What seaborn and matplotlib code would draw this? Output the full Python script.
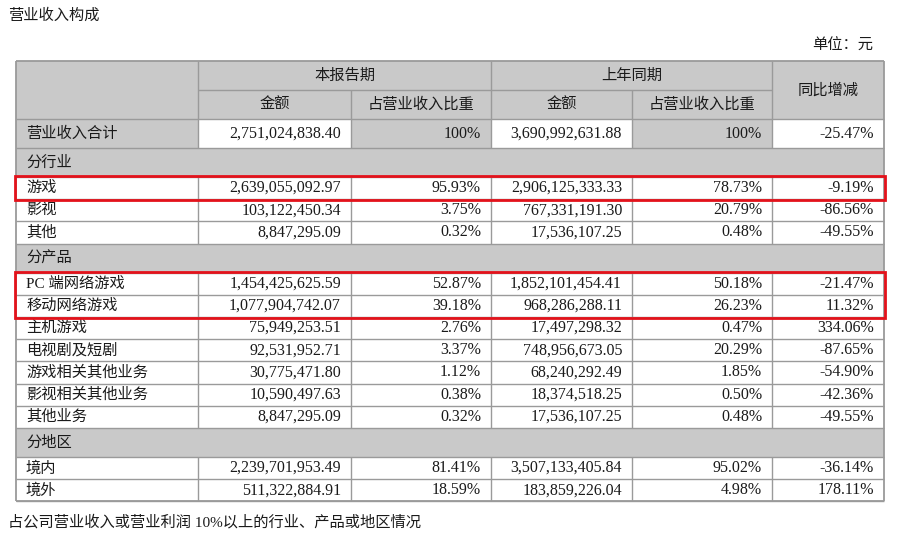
import seaborn as sns
import matplotlib.pyplot as plt
from matplotlib.patches import Rectangle

sns.set_theme(style='white')
plt.rcParams['font.family'] = ['Liberation Serif', 'Noto Sans CJK SC', 'DejaVu Sans']

###

title = '营业收入构成'
unit_note = '单位：元'
footnote = '占公司营业收入或营业利润 10%以上的行业、产品或地区情况'

period_headers = ['本报告期', '上年同期']
sub_headers = ['金额', '占营业收入比重']
yoy_header = '同比增减'

total_label = '营业收入合计'
total_cur_amount = 2751024838.40
total_prev_amount = 3690992631.88
total_yoy = -25.47

section_names = ['分行业', '分产品', '分地区']
section_sizes = [3, 7, 2]

item_labels = ['游戏', '影视', '其他',
               'PC 端网络游戏', '移动网络游戏', '主机游戏', '电视剧及短剧',
               '游戏相关其他业务', '影视相关其他业务', '其他业务',
               '境内', '境外']
cur_amount = [2639055092.97, 103122450.34, 8847295.09,
              1454425625.59, 1077904742.07, 75949253.51, 92531952.71,
              30775471.80, 10590497.63, 8847295.09,
              2239701953.49, 511322884.91]
cur_share = [95.93, 3.75, 0.32,
             52.87, 39.18, 2.76, 3.37, 1.12, 0.38, 0.32,
             81.41, 18.59]
prev_amount = [2906125333.33, 767331191.30, 17536107.25,
               1852101454.41, 968286288.11, 17497298.32, 748956673.05,
               68240292.49, 18374518.25, 17536107.25,
               3507133405.84, 183859226.04]
prev_share = [78.73, 20.79, 0.48,
              50.18, 26.23, 0.47, 20.29, 1.85, 0.50, 0.48,
              95.02, 4.98]
yoy_change = [-9.19, -86.56, -49.55,
              -21.47, 11.32, 334.06, -87.65, -54.90, -42.36, -49.55,
              -36.14, 178.11]

highlight_groups = [[0], [3, 4]]

###

GREY = '#c9c9c9'
LINE = '#9a9a9a'
RED = '#e3121b'
TXT = '#1a1a1a'

col_x = [16, 198, 351, 491, 632, 772, 884]
top = 61
head_h = 29
sec_h = 29
item_h = 22.2
num_size = 11.5
cjk_size = 11

fig = plt.figure(figsize=(9, 5.38), dpi=100)
ax = fig.add_axes([0, 0, 1, 1])
ax.set_xlim(0, 900)
ax.set_ylim(538, 0)
ax.axis('off')


def cell(x0, x1, y0, y1, color):
    ax.add_patch(Rectangle((x0, y0), x1 - x0, y1 - y0, facecolor=color,
                           edgecolor='none', zorder=1))


def hline(x0, x1, y, lw=1.0):
    ax.plot([x0, x1], [y, y], color=LINE, lw=lw, zorder=2, solid_capstyle='butt')


def vline(x, y0, y1, lw=1.0):
    ax.plot([x, x], [y0, y1], color=LINE, lw=lw, zorder=2, solid_capstyle='butt')


def put(x, y, s, ha='right', size=num_size):
    ax.text(x, y, s, ha=ha, va='center', fontsize=size, color=TXT, zorder=3)


def pct(v):
    return f'{v:.2f}%'


# header
h1 = top + head_h
h2 = h1 + head_h
cell(col_x[0], col_x[-1], top, h2, GREY)
for i, name in enumerate(period_headers):
    xa, xb = col_x[1 + 2 * i], col_x[3 + 2 * i]
    put((xa + xb) / 2, (top + h1) / 2, name, ha='center', size=cjk_size)
    for j, sub in enumerate(sub_headers):
        c0, c1 = col_x[1 + 2 * i + j], col_x[2 + 2 * i + j]
        put((c0 + c1) / 2, (h1 + h2) / 2, sub, ha='center', size=cjk_size)
put((col_x[5] + col_x[6]) / 2, (top + h2) / 2, yoy_header, ha='center', size=cjk_size)
hline(col_x[1], col_x[5], h1)
for k in [1, 3, 5]:
    vline(col_x[k], top, h2)
for k in [2, 4]:
    vline(col_x[k], h1, h2)
hline(col_x[0], col_x[-1], h2)

# total row
y0 = h2
y1 = y0 + sec_h
for k in range(6):
    cell(col_x[k], col_x[k + 1], y0, y1, GREY if k in (0, 2, 4) else 'white')
yc = (y0 + y1) / 2
put(col_x[0] + 10, yc, total_label, ha='left', size=cjk_size)
put(col_x[2] - 10, yc, f'{total_cur_amount:,.2f}')
put(col_x[3] - 10, yc, '100%')
put(col_x[4] - 10, yc, f'{total_prev_amount:,.2f}')
put(col_x[5] - 10, yc, '100%')
put(col_x[6] - 10, yc, pct(total_yoy))
for k in range(1, 6):
    vline(col_x[k], y0, y1)
hline(col_x[0], col_x[-1], y1)

# sections and items
row_top = {}
y = y1
idx = 0
for name, n in zip(section_names, section_sizes):
    cell(col_x[0], col_x[-1], y, y + sec_h, GREY)
    put(col_x[0] + 10, y + sec_h / 2, name, ha='left', size=cjk_size)
    y += sec_h
    hline(col_x[0], col_x[-1], y)
    for _ in range(n):
        yb = y + item_h
        yc = (y + yb) / 2
        row_top[idx] = y
        put(col_x[0] + 10, yc, item_labels[idx], ha='left', size=cjk_size)
        put(col_x[2] - 10, yc, f'{cur_amount[idx]:,.2f}')
        put(col_x[3] - 10, yc, pct(cur_share[idx]))
        put(col_x[4] - 10, yc, f'{prev_amount[idx]:,.2f}')
        put(col_x[5] - 10, yc, pct(prev_share[idx]))
        put(col_x[6] - 10, yc, pct(yoy_change[idx]))
        for k in range(1, 6):
            vline(col_x[k], y, yb)
        hline(col_x[0], col_x[-1], yb)
        y = yb
        idx += 1
bottom = y

# outer border
vline(col_x[0], top, bottom, lw=1.3)
vline(col_x[-1], top, bottom, lw=1.3)
hline(col_x[0], col_x[-1], top, lw=1.3)
hline(col_x[0], col_x[-1], bottom, lw=1.3)

# red highlight boxes
for grp in highlight_groups:
    ya = row_top[grp[0]] - 0.8
    yb = row_top[grp[-1]] + item_h + 0.8
    ax.add_patch(Rectangle((col_x[0] - 1, ya), col_x[-1] - col_x[0] + 2, yb - ya,
                           facecolor='none', edgecolor=RED, lw=2.0, zorder=4))

# texts around table
put(8, 16, title, ha='left', size=cjk_size)
put(873, 46, unit_note, ha='right', size=cjk_size)
put(8, 522, footnote, ha='left', size=cjk_size)

fig.savefig('out.png', dpi=100, facecolor='white')
